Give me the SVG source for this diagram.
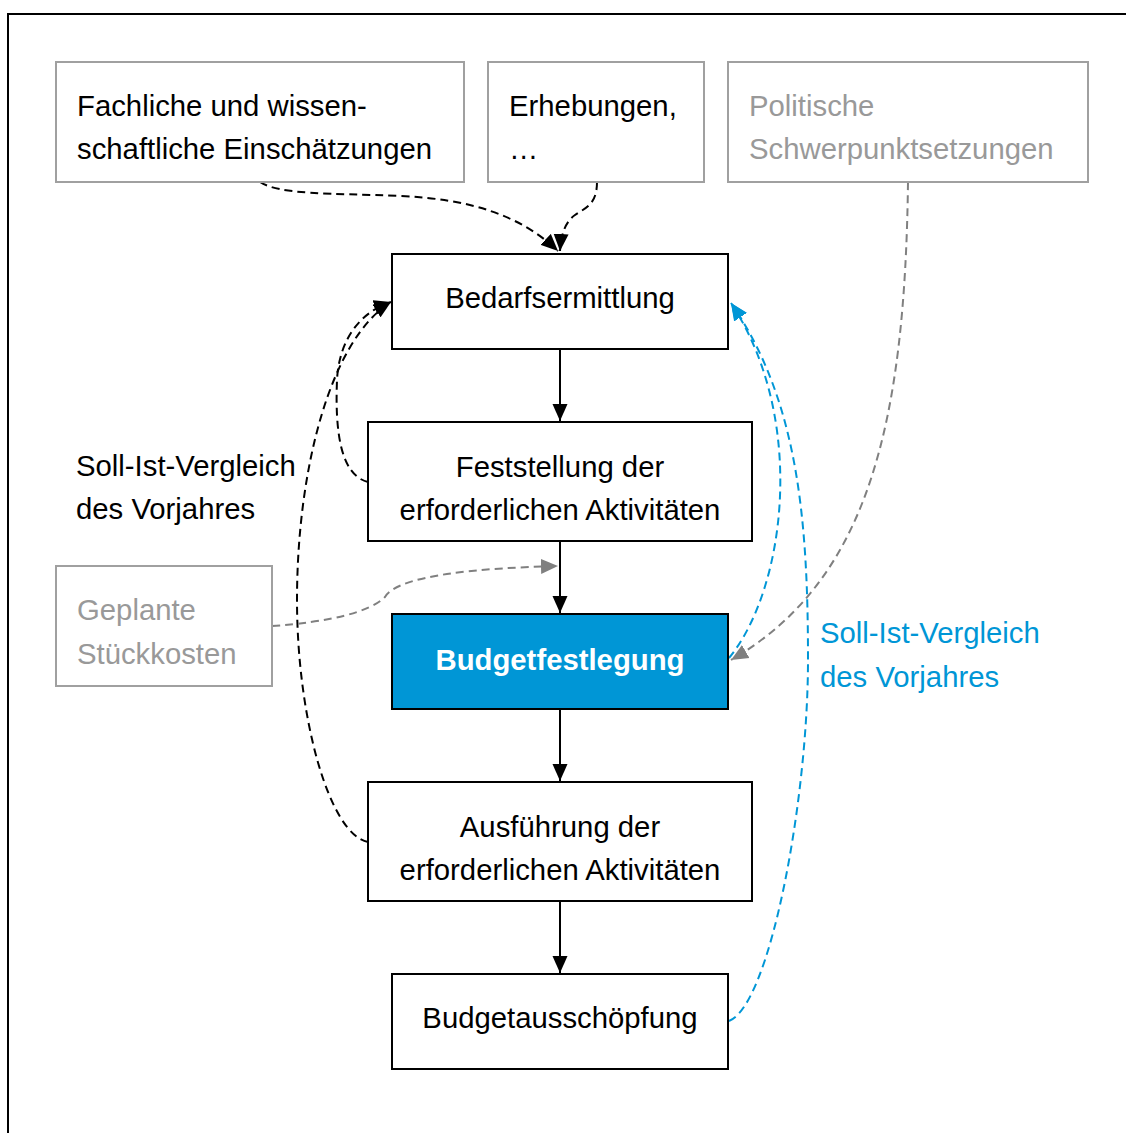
<svg xmlns="http://www.w3.org/2000/svg" width="1126" height="1133" viewBox="0 0 1126 1133">
  <style>
    text { font-family: "Liberation Sans", Arial, sans-serif; font-size: 29.3px; fill: #000; }
    .grey-text { fill: #999999; }
    .blue-text { fill: #0096d6; }
    .box { fill: #fff; stroke: #000; stroke-width: 2; }
    .box-grey { fill: #fff; stroke: #a0a0a0; stroke-width: 2; }
    .box-main { fill: #0096d6; stroke: #000; stroke-width: 2; }
    .main-text { fill: #fff; font-weight: bold; }
    .mid { text-anchor: middle; }
    .flow { fill: none; stroke: #000; stroke-width: 2; }
    .dash-black { fill: none; stroke: #000; stroke-width: 2; stroke-dasharray: 8 5; }
    .dash-grey { fill: none; stroke: #808080; stroke-width: 2; stroke-dasharray: 8 5; }
    .dash-blue { fill: none; stroke: #0096d6; stroke-width: 2; stroke-dasharray: 8 5; }
  </style>
  <defs>
    <marker id="arrow-black" markerUnits="userSpaceOnUse" markerWidth="17" markerHeight="16" viewBox="0 0 17 15" refX="17" refY="7.5" orient="auto">
      <path d="M0,0 L17,7.5 L0,15 Z" fill="#000"/>
    </marker>
    <marker id="arrow-grey" markerUnits="userSpaceOnUse" markerWidth="17" markerHeight="16" viewBox="0 0 17 15" refX="17" refY="7.5" orient="auto">
      <path d="M0,0 L17,7.5 L0,15 Z" fill="#808080"/>
    </marker>
    <marker id="arrow-blue" markerUnits="userSpaceOnUse" markerWidth="17" markerHeight="16" viewBox="0 0 17 15" refX="17" refY="7.5" orient="auto">
      <path d="M0,0 L17,7.5 L0,15 Z" fill="#0096d6"/>
    </marker>
  </defs>

  <rect width="1126" height="1133" fill="#fff"/>
  <!-- outer frame -->
  <rect x="8" y="14" width="1140" height="1140" fill="none" stroke="#000" stroke-width="2"/>

  <!-- connectors -->
  <g id="connectors">
    <line class="flow" x1="560" y1="349" x2="560" y2="421" marker-end="url(#arrow-black)"/>
    <line class="flow" x1="560" y1="541" x2="560" y2="613" marker-end="url(#arrow-black)"/>
    <line class="flow" x1="560" y1="709" x2="560" y2="781" marker-end="url(#arrow-black)"/>
    <line class="flow" x1="560" y1="901" x2="560" y2="973" marker-end="url(#arrow-black)"/>

    <path class="dash-black" d="M260,182 C280,195 330,193 400,196 C470,199 520,215 558,251" marker-end="url(#arrow-black)"/>
    <path class="dash-black" d="M597,182 C597,205 585,208 575,215 C565,222 561,235 560,251" marker-end="url(#arrow-black)"/>

    <path class="dash-black" d="M368,482 C340,475 335,430 337,380 C339,340 360,312 391,302" marker-end="url(#arrow-black)"/>
    <path class="dash-black" d="M368,842 C330,835 297,720 297,600 C297,470 330,340 391,302" marker-end="url(#arrow-black)"/>

    <path class="dash-grey" d="M272,626 C330,622 370,612 385,597 C398,575 480,568 558,566" marker-end="url(#arrow-grey)"/>
    <path class="dash-grey" d="M908,182 C905,420 870,580 731,660" marker-end="url(#arrow-grey)"/>

    <path class="dash-blue" d="M729,658 C785,590 808,420 731,303" marker-end="url(#arrow-blue)"/>
    <path class="dash-blue" d="M729,1021 C770,1005 808,800 808,660 C808,520 798,400 731,303" marker-end="url(#arrow-blue)"/>
  </g>

  <!-- input sources -->
  <g id="fachliche">
    <rect class="box-grey" x="56" y="62" width="408" height="120"/>
    <text x="77" y="116">Fachliche und wissen-</text>
    <text x="77" y="159">schaftliche Einschätzungen</text>
  </g>
  <g id="erhebungen">
    <rect class="box-grey" x="488" y="62" width="216" height="120"/>
    <text x="509" y="116">Erhebungen,</text>
    <text x="509" y="159">…</text>
  </g>
  <g id="politische">
    <rect class="box-grey" x="728" y="62" width="360" height="120"/>
    <text class="grey-text" x="749" y="116">Politische</text>
    <text class="grey-text" x="749" y="159">Schwerpunktsetzungen</text>
  </g>

  <!-- process chain -->
  <g id="bedarfsermittlung">
    <rect class="box" x="392" y="254" width="336" height="95"/>
    <text class="mid" x="560" y="308">Bedarfsermittlung</text>
  </g>
  <g id="feststellung">
    <rect class="box" x="368" y="422" width="384" height="119"/>
    <text class="mid" x="560" y="477">Feststellung der</text>
    <text class="mid" x="560" y="520">erforderlichen Aktivitäten</text>
  </g>
  <g id="stueckkosten">
    <rect class="box-grey" x="56" y="566" width="216" height="120"/>
    <text class="grey-text" x="77" y="620">Geplante</text>
    <text class="grey-text" x="77" y="664">Stückkosten</text>
  </g>
  <g id="budgetfestlegung">
    <rect class="box-main" x="392" y="614" width="336" height="95"/>
    <text class="mid main-text" x="560" y="670">Budgetfestlegung</text>
  </g>
  <g id="ausfuehrung">
    <rect class="box" x="368" y="782" width="384" height="119"/>
    <text class="mid" x="560" y="837">Ausführung der</text>
    <text class="mid" x="560" y="880">erforderlichen Aktivitäten</text>
  </g>
  <g id="budgetausschoepfung">
    <rect class="box" x="392" y="974" width="336" height="95"/>
    <text class="mid" x="560" y="1028">Budgetausschöpfung</text>
  </g>

  <!-- loop labels -->
  <g id="label-left">
    <text x="76" y="476">Soll-Ist-Vergleich</text>
    <text x="76" y="519">des Vorjahres</text>
  </g>
  <g id="label-right">
    <text class="blue-text" x="820" y="643">Soll-Ist-Vergleich</text>
    <text class="blue-text" x="820" y="687">des Vorjahres</text>
  </g>
</svg>
